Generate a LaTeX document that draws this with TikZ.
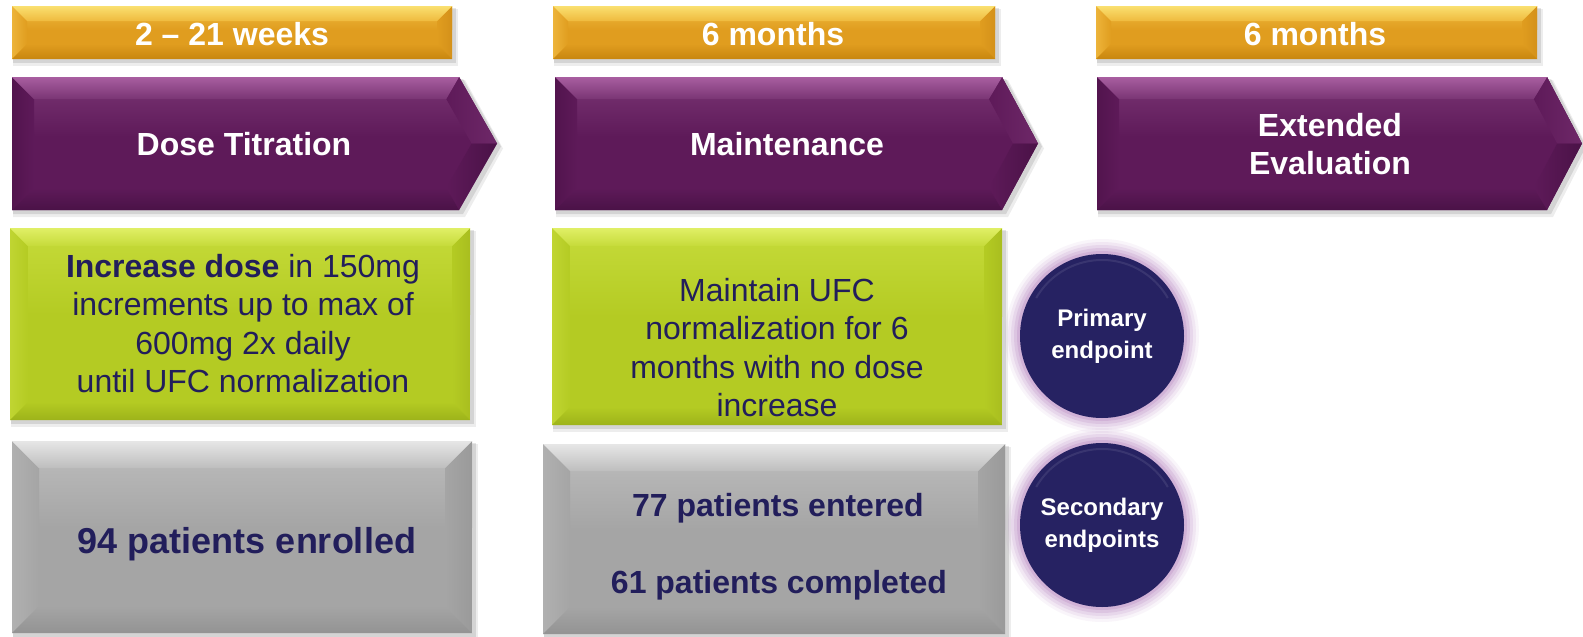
\documentclass[tikz,border=0pt]{standalone}
\usepackage{fontspec}
\setmainfont{Liberation Sans}
\definecolor{gdFace}{HTML}{E09D1F}
\definecolor{gdLight}{HTML}{EFBA3E}
\definecolor{gdTop}{HTML}{FAE070}
\definecolor{gdLeft}{HTML}{EDB43A}
\definecolor{gdRight}{HTML}{D4911A}
\definecolor{gdBot}{HTML}{C8860F}
\definecolor{puFace}{HTML}{5E1A59}
\definecolor{puLight}{HTML}{7A3574}
\definecolor{puTop}{HTML}{A85EA0}
\definecolor{puLeft}{HTML}{52144E}
\definecolor{puRight}{HTML}{6E2868}
\definecolor{puBot}{HTML}{4A1247}
\definecolor{grFace}{HTML}{B4CB23}
\definecolor{grLight}{HTML}{C6DB3A}
\definecolor{grTop}{HTML}{E0EF66}
\definecolor{grLeft}{HTML}{C0D532}
\definecolor{grRight}{HTML}{A9BE1F}
\definecolor{grBot}{HTML}{9DB31A}
\definecolor{gyFace}{HTML}{A5A5A5}
\definecolor{gyLight}{HTML}{BEBEBE}
\definecolor{gyTop}{HTML}{E6E6E6}
\definecolor{gyLeft}{HTML}{B0B0B0}
\definecolor{gyRight}{HTML}{9A9A9A}
\definecolor{gyBot}{HTML}{939393}
\definecolor{navyT}{HTML}{221E5B}
\definecolor{navyC}{HTML}{262262}
\definecolor{glowC}{HTML}{B888C2}
% x1,y1,x2,y2,bevel,prefix
\newcommand\bevbox[6]{%
  \fill[black,opacity=.07] (#1+1,#2+3) rectangle (#3+6,#4+7);
  \fill[black,opacity=.10] (#1+1,#2+2) rectangle (#3+4,#4+4);
  \fill[#6Face] (#1,#2) rectangle (#3,#4);
  \shade[top color=#6Light,bottom color=#6Face] (#1,#2) rectangle (#3,{#2+0.45*(#4-#2)});
  \shade[left color=#6Left,right color=#6Face] (#1,#2) -- (#1+#5,#2+#5) -- (#1+#5,#4-#5) -- (#1,#4) -- cycle;
  \shade[left color=#6Face,right color=#6Right] (#3,#2) -- (#3,#4) -- (#3-#5,#4-#5) -- (#3-#5,#2+#5) -- cycle;
  \shade[top color=#6Face,bottom color=#6Bot] (#1,#4) -- (#1+#5,#4-#5) -- (#3-#5,#4-#5) -- (#3,#4) -- cycle;
  \shade[top color=#6Top,bottom color=#6Light] (#1,#2) -- (#3,#2) -- (#3-#5,#2+#5) -- (#1+#5,#2+#5) -- cycle;
}
% x1,y1,xr,xt,y2,bevel,prefix
\newcommand\bevarrow[7]{%
  \pgfmathsetmacro\bym{(#2+#5)/2}%
  \pgfmathsetmacro\bs{(#4-#3)/(\bym-#2)}%
  \pgfmathsetmacro\bq{#6*sqrt(1+\bs*\bs)}%
  \pgfmathsetmacro\bix{#3+\bs*#6-\bq}%
  \pgfmathsetmacro\bit{#4-\bq}%
  \fill[black,opacity=.07] (#1+1,#2+3) -- (#3+6,#2+3) -- (#4+6,\bym+5) -- (#3+6,#5+7) -- (#1+1,#5+7) -- cycle;
  \fill[black,opacity=.10] (#1+1,#2+2) -- (#3+4,#2+2) -- (#4+4,\bym+3) -- (#3+4,#5+4) -- (#1+1,#5+4) -- cycle;
  \fill[#7Face] (#1,#2) -- (#3,#2) -- (#4,\bym) -- (#3,#5) -- (#1,#5) -- cycle;
  \begin{scope}
    \clip (#1,#2) -- (#3,#2) -- (#4,\bym) -- (#3,#5) -- (#1,#5) -- cycle;
    \shade[top color=#7Light,bottom color=#7Face] (#1,#2) rectangle (#4,{#2+0.45*(#5-#2)});
  \end{scope}
  \shade[left color=#7Left,right color=#7Face] (#1,#2) -- (#1+#6,#2+#6) -- (#1+#6,#5-#6) -- (#1,#5) -- cycle;
  \shade[left color=#7Face,right color=#7Right] (#3,#2) -- (#4,\bym) -- (\bit,\bym) -- (\bix,#2+#6) -- cycle;
  \shade[left color=#7Face,right color=#7Bot] (#4,\bym) -- (#3,#5) -- (\bix,#5-#6) -- (\bit,\bym) -- cycle;
  \shade[top color=#7Face,bottom color=#7Bot] (#1,#5) -- (#1+#6,#5-#6) -- (\bix,#5-#6) -- (#3,#5) -- cycle;
  \shade[top color=#7Top,bottom color=#7Light] (#1,#2) -- (#3,#2) -- (\bix,#2+#6) -- (#1+#6,#2+#6) -- cycle;
}
\begin{document}
\begin{tikzpicture}[x=1pt,y=-1pt,
  wt/.style={text=white,inner sep=0pt,font=\bfseries\fontsize{32}{38}\selectfont},
  nt/.style={text=navyT,inner sep=0pt,align=center},
  circ/.style={circle,fill=navyC,minimum size=164pt,inner sep=0pt,text=white,align=center,
    font=\bfseries\fontsize{24}{31.7}\selectfont}]
\useasboundingbox[fill=white] (0,0) rectangle (1583,637);

% timing bars
\bevbox{12}{6}{452}{59}{15}{gd}
\bevbox{553}{6}{995}{59}{15}{gd}
\bevbox{1096}{6}{1537}{59}{15}{gd}

% phase arrows
\bevarrow{12}{77}{459}{497}{210}{22}{pu}
\bevarrow{555}{77}{1002}{1038}{210}{22}{pu}
\bevarrow{1097}{77}{1547}{1582}{210}{22}{pu}

% description boxes
\bevbox{10}{228}{470}{420}{18}{gr}
\bevbox{552}{228}{1002}{425}{18}{gr}

% patient boxes
\bevbox{12}{441}{472}{633}{27}{gy}
\bevbox{543}{444}{1005}{634}{27}{gy}

% endpoint glows
\foreach \r/\o in {97/0.08,94/0.12,91/0.16,88/0.22,85/0.3}{
  \fill[glowC,opacity=\o] (1102,336) circle[radius=\r];
  \fill[glowC,opacity=\o] (1102,525) circle[radius=\r];
}

% texts
\node[wt,anchor=base] (w1) at (232,45) {2 – 21 weeks};
\node[wt,anchor=base] (w2) at (773,45) {6 months};
\node[wt,anchor=base] (w3) at (1315,45) {6 months};
\node[wt,anchor=base] (p1) at (244,155) {Dose Titration};
\node[wt,anchor=base] (p2) at (787,155) {Maintenance};
\node[wt,align=center] (p3) at (1330,144.3) {Extended\\Evaluation};

\node[nt,font=\fontsize{32}{38.5}\selectfont] (g1) at (243,323.5)
  {\textbf{Increase dose} in 150mg\\increments up to max of\\600mg 2x daily\\until UFC normalization};
\node[nt,font=\fontsize{32}{38.5}\selectfont] (g2) at (777,347.8)
  {Maintain UFC\\normalization for 6\\months with no dose\\increase};

\node[nt,anchor=base,font=\bfseries\fontsize{36}{40}\selectfont] (e1) at (247,553) {94 patients enrolled};
\node[nt,anchor=base,font=\bfseries\fontsize{32}{38}\selectfont] (e2) at (778,516.7) {77 patients entered};
\node[nt,anchor=base,font=\bfseries\fontsize{32}{38}\selectfont] (e3) at (779,593.3) {61 patients completed};

\node[circ] (prim) at (1102,336) {Primary\\endpoint};
\node[circ] (sec) at (1102,525) {Secondary\\endpoints};
\draw[white,opacity=.09,line width=2pt] (prim.center) ++(210:76) arc[start angle=210,end angle=330,radius=76];
\draw[white,opacity=.09,line width=2pt] (sec.center) ++(210:76) arc[start angle=210,end angle=330,radius=76];
\end{tikzpicture}
\end{document}
